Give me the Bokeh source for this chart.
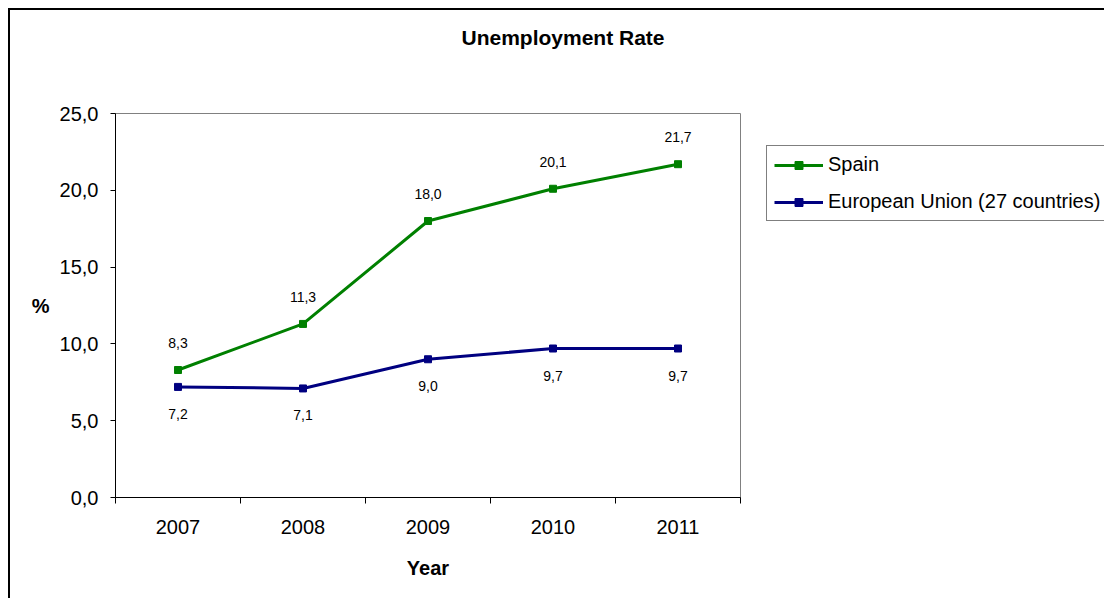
from bokeh.plotting import figure
from bokeh.models import Range1d, FixedTicker, Legend, LegendItem, Title
from bokeh.core.properties import value
from bokeh.embed import file_html
from bokeh.resources import INLINE

years = ["2007", "2008", "2009", "2010", "2011"]
spain = [8.3, 11.3, 18.0, 20.1, 21.7]
eu = [7.2, 7.1, 9.0, 9.7, 9.7]
y_ticks = [0, 5, 10, 15, 20, 25]
series_names = ["Spain", "European Union (27 countries)"]
title_text = "Unemployment Rate"
x_title = "Year"
y_title = "%"

FONT = "Liberation Sans"
GREEN = "#008000"
NAVY = "#000080"


def fmt(v):
    return f"{v:.1f}".replace(".", ",")


xs = [i + 0.5 for i in range(len(years))]

p = figure(frame_width=625, frame_height=384, output_backend="svg", toolbar_location=None,
           x_range=Range1d(0, len(years)), y_range=Range1d(0, 25),
           min_border_left=105, min_border_top=103,
           min_border_right=0, min_border_bottom=101,
           title=None)
p.styles = {"margin-left": "8px", "margin-top": "8px",
            "border-left": "2px solid black", "border-top": "2px solid black"}
p.xgrid.visible = False
p.ygrid.visible = False
p.outline_line_color = "#808080"
p.outline_line_width = 1
p.background_fill_color = "white"
p.border_fill_color = "white"

# spacer between frame and chart title, then the title itself
p.add_layout(Title(text=" ", text_font_size="1px", standoff=62, text_color="white"), "above")
p.add_layout(Title(text=title_text, align="left", offset=346, standoff=0,
                   text_font=FONT, text_font_size="21px", text_font_style="bold",
                   text_color="black"), "above")

# x axis: labels at category centres, ticks at boundaries
p.xaxis.ticker = FixedTicker(ticks=xs, minor_ticks=list(range(len(years) + 1)))
p.xaxis.major_label_overrides = {x: y for x, y in zip(xs, years)}
p.xaxis.major_tick_line_color = None
p.xaxis.major_tick_out = 6
p.xaxis.major_tick_in = 0
p.xaxis.minor_tick_line_color = "black"
p.xaxis.minor_tick_out = 6
p.xaxis.minor_tick_in = 0
p.xaxis.major_label_standoff = 16
p.xaxis.axis_label = x_title
p.xaxis.axis_label_standoff = 20

p.yaxis.ticker = FixedTicker(ticks=y_ticks, minor_ticks=[])
p.yaxis.major_label_overrides = {t: fmt(t) for t in y_ticks}
p.yaxis.major_tick_out = 5
p.yaxis.major_tick_in = 0
p.yaxis.major_label_standoff = 12
p.yaxis.axis_label = y_title
p.yaxis.axis_label_orientation = "horizontal"
p.yaxis.axis_label_standoff = 7

for ax in (p.xaxis, p.yaxis):
    ax.axis_line_color = "black"
    ax.axis_line_width = 1
    ax.major_label_text_font = FONT
    ax.major_label_text_font_size = "20px"
    ax.major_label_text_color = "black"
    ax.axis_label_text_font = FONT
    ax.axis_label_text_font_size = "20px"
    ax.axis_label_text_font_style = "bold"
    ax.axis_label_text_color = "black"

r1 = p.line(xs, spain, line_color=GREEN, line_width=3)
s1 = p.scatter(xs, spain, marker="square", size=7, fill_color=GREEN, line_color=GREEN)
r2 = p.line(xs, eu, line_color=NAVY, line_width=3)
s2 = p.scatter(xs, eu, marker="square", size=7, fill_color=NAVY, line_color=NAVY)

p.text(x=xs, y=spain, text=[fmt(v) for v in spain], text_font=value(FONT),
       text_font_size="14px", text_align="center", text_baseline="middle",
       y_offset=-27, text_color="black")
p.text(x=xs, y=eu, text=[fmt(v) for v in eu], text_font=value(FONT),
       text_font_size="14px", text_align="center", text_baseline="middle",
       y_offset=27, text_color="black")

legend = Legend(items=[LegendItem(label=series_names[0], renderers=[r1, s1]),
                       LegendItem(label=series_names[1], renderers=[r2, s2])],
                location=(26, 276), label_text_font=FONT, label_text_font_size="20px",
                label_text_color="black",
                glyph_width=49, glyph_height=20, label_height=20, label_standoff=5,
                padding=7, spacing=14, margin=0, border_line_color="black",
                border_line_width=1, background_fill_color="white", background_fill_alpha=1)
p.add_layout(legend, "right")

open("out.html", "w").write(file_html(p, INLINE))
